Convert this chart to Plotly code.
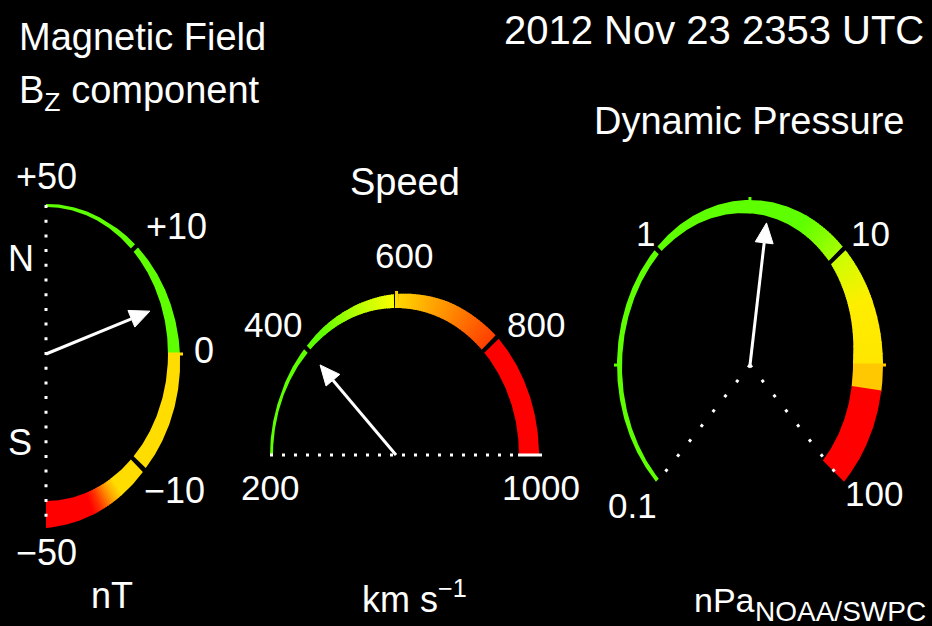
import numpy as np
import plotly.graph_objects as go

timestamp = "2012 Nov 23 2353 UTC"

bz_ticks = [50, 10, 0, -10, -50]
bz_tick_labels = ["+50", "+10", "0", "−10", "−50"]
bz_value = 4.2  # nT

speed_ticks = [200, 400, 600, 800, 1000]
speed_tick_labels = ["200", "400", "600", "800", "1000"]
speed_value = 399  # km/s

pressure_ticks = [0.1, 1, 10, 100]
pressure_tick_labels = ["0.1", "1", "10", "100"]
pressure_value = 3.9  # nPa

# ---- styling ----
FONT = "Liberation Sans, Arial, sans-serif"
GREEN = "#5eff00"
RED = "#ff0000"

# angle (deg, counter-clockwise from +x) of each labelled tick
BZ_ANGLES = [90, 45, 0, -45, -90]


def bz_angle(v):
    return np.interp(v, bz_ticks[::-1], BZ_ANGLES[::-1])


def speed_angle(v):
    return np.interp(v, [speed_ticks[0], speed_ticks[-1]], [180, 0])


def pressure_angle(v):
    lo, hi = np.log10(pressure_ticks[0]), np.log10(pressure_ticks[-1])
    return np.interp(np.log10(v), [lo, hi], [225, -45])


gauges = [
    dict(
        scale=bz_angle, ticks=bz_ticks, value=bz_value,
        cx=46, cy=354, rx=122, ry=147, grow=1, needle=0.9,
        colors=[(50, GREEN), (0, GREEN), (0, "#ffdd00"), (-21, "#ffdd00"),
                (-25, "#ffa000"), (-30, "#ff3000"), (-33, RED), (-50, RED)],
        widths=[(50, 3), (25, 4), (10, 6), (0, 12), (-10, 17), (-50, 27)],
        gaps=[10, -10], marks=[0],
    ),
    dict(
        scale=speed_angle, ticks=speed_ticks, value=speed_value,
        cx=396, cy=455, rx=123, ry=147, grow=1, needle=0.87,
        colors=[(200, GREEN), (440, GREEN), (520, "#b4ff00"), (600, "#ffff00"),
                (600, "#ffd800"), (700, "#ff9000"), (800, "#ff3c00"), (800, RED), (1000, RED)],
        widths=[(200, 3), (300, 3), (400, 5), (500, 9), (600, 14), (700, 18), (800, 20), (1000, 20)],
        gaps=[400, 600, 800], marks=[601],
    ),
    dict(
        scale=pressure_angle, ticks=pressure_ticks, value=pressure_value,
        cx=750, cy=365, rx=133, ry=165, grow=-1, needle=0.87,
        colors=[(0.1, GREEN), (6, GREEN), (10, "#a8ff00"), (10, "#c8ff00"), (17, "#ffee00"),
                (31.6, "#ffe600"), (31.6, "#ffc800"), (40, "#ffc800"), (40, RED), (100, RED)],
        widths=[(0.1, 4), (1, 6), (3, 13), (10, 20), (30, 30), (100, 30)],
        gaps=[1, 10], marks=[0.316, 3.16, 31.6],
    ),
]


def to_rgb(h):
    return np.array([int(h[i:i + 2], 16) for i in (1, 3, 5)], dtype=float)


def ellipse(g, ang, off):
    a = np.radians(ang)
    return g["cx"] + (g["rx"] + off) * np.cos(a), g["cy"] - (g["ry"] + off) * np.sin(a)


def band_props(g, s):
    """colour + width at distance s (deg) along the dial from its first tick"""
    a0 = g["scale"](g["ticks"][0])
    cs = [a0 - g["scale"](v) for v, _ in g["colors"]]
    rgb = np.array([to_rgb(c) for _, c in g["colors"]])
    col = [int(round(np.interp(s, cs, rgb[:, k]))) for k in range(3)]
    ws = [a0 - g["scale"](v) for v, _ in g["widths"]]
    w = np.interp(s, ws, [w for _, w in g["widths"]])
    return "#%02x%02x%02x" % tuple(col), w


def band_edges(g, s_arr):
    a0 = g["scale"](g["ticks"][0])
    ang = a0 - s_arr
    w = np.array([band_props(g, s)[1] for s in s_arr])
    if g["grow"] > 0:
        ix, iy = ellipse(g, ang, 0)
        ox, oy = ellipse(g, ang, w)
    else:
        ox, oy = ellipse(g, ang, 0)
        ix, iy = ellipse(g, ang, -w)
    return ix, iy, ox, oy


fig = go.Figure()
GAP = 0.9

for g in gauges:
    a0 = g["scale"](g["ticks"][0])
    total = a0 - g["scale"](g["ticks"][-1])
    cuts = sorted(a0 - g["scale"](v) for v in g["gaps"])
    pieces, start = [], 0.0
    for c in cuts:
        pieces.append((start, c - GAP))
        start = c + GAP
    pieces.append((start, total))

    for p0, p1 in pieces:
        edges = np.append(np.arange(p0, p1, 1.0), p1)
        mids = (edges[:-1] + edges[1:]) / 2
        cols = [band_props(g, m)[0] for m in mids]
        i = 0
        while i < len(cols):
            j = i
            while j + 1 < len(cols) and cols[j + 1] == cols[i]:
                j += 1
            s_lo = edges[i]
            s_hi = min(edges[j + 1] + 0.4, p1)
            s_arr = np.linspace(s_lo, s_hi, max(2, int((s_hi - s_lo) / 0.5) + 1))
            ix, iy, ox, oy = band_edges(g, s_arr)
            fig.add_trace(go.Scatter(
                x=np.concatenate([ox, ix[::-1]]), y=np.concatenate([oy, iy[::-1]]),
                mode="lines", fill="toself", fillcolor=cols[i],
                line=dict(width=0), hoverinfo="skip",
            ))
            i = j + 1

    # small marks poking out of the band
    for v in g["marks"]:
        s = a0 - g["scale"](v)
        col, w = band_props(g, s)
        ang = g["scale"](v)
        if g["grow"] > 0:
            x0, y0 = ellipse(g, ang, 0)
            x1, y1 = ellipse(g, ang, w + 3)
        else:
            x0, y0 = ellipse(g, ang, -w)
            x1, y1 = ellipse(g, ang, 3)
        fig.add_trace(go.Scatter(x=[x0, x1], y=[y0, y1], mode="lines",
                                 line=dict(color=col, width=3), hoverinfo="skip"))

# ---- dotted guide lines ----
bz, sp, pr = gauges
fig.add_trace(go.Scatter(
    x=[bz["cx"], bz["cx"]], y=[bz["cy"] - bz["ry"] - 2, bz["cy"] + bz["ry"] + 27],
    mode="lines", line=dict(color="white", width=3, dash="3px,11.7px"), hoverinfo="skip"))
fig.add_trace(go.Scatter(
    x=[sp["cx"] - sp["rx"] - 3, sp["cx"] + sp["rx"] - 4], y=[sp["cy"], sp["cy"]],
    mode="lines", line=dict(color="white", width=3, dash="3px,9px"), hoverinfo="skip"))
fig.add_trace(go.Scatter(
    x=[sp["cx"] + sp["rx"] - 1, sp["cx"] + sp["rx"] + 23], y=[sp["cy"], sp["cy"]],
    mode="lines", line=dict(color="white", width=3), hoverinfo="skip"))
for v in (pressure_ticks[0], pressure_ticks[-1]):
    ex, ey = ellipse(pr, pressure_angle(v), -10)
    fig.add_trace(go.Scatter(
        x=[pr["cx"], ex], y=[pr["cy"], ey], mode="lines",
        line=dict(color="white", width=3, dash="3px,16px"), hoverinfo="skip"))

# ---- needles ----
HEAD_LEN, HEAD_HALF = 20, 9
for g in gauges:
    a = np.radians(g["scale"](g["value"]))
    tx = g["cx"] + g["needle"] * g["rx"] * np.cos(a)
    ty = g["cy"] - g["needle"] * g["ry"] * np.sin(a)
    u = np.array([tx - g["cx"], ty - g["cy"]])
    u /= np.linalg.norm(u)
    n = np.array([-u[1], u[0]])
    bx, by = tx - u[0] * HEAD_LEN, ty - u[1] * HEAD_LEN
    fig.add_trace(go.Scatter(
        x=[g["cx"], bx], y=[g["cy"], by], mode="lines",
        line=dict(color="white", width=3), hoverinfo="skip",
    ))
    fig.add_trace(go.Scatter(
        x=[tx, bx + n[0] * HEAD_HALF, bx - n[0] * HEAD_HALF, tx],
        y=[ty, by + n[1] * HEAD_HALF, by - n[1] * HEAD_HALF, ty],
        mode="lines", fill="toself", fillcolor="white",
        line=dict(color="white", width=1), hoverinfo="skip",
    ))

# ---- text ----
labels = [
    ("Magnetic Field", 17, 37, "left", 38),
    ("B<sub>Z</sub> component", 17, 93, "left", 38),
    (timestamp, 926, 30, "right", 40),
    ("Dynamic Pressure", 906, 121, "right", 38),
    ("Speed", 405, 182, "center", 38),
    ("N", 6, 258, "left", 36),
    ("S", 6, 442, "left", 36),
    ("nT", 89, 595, "left", 36),
    ("km s<sup>−1</sup>", 360, 597, "left", 36),
    ("nPa", 692, 600, "left", 34),
    ("NOAA/SWPC", 928, 611, "right", 28),
]
bz_label_pos = [(46, 176, "center"), (144, 226, "left"), (192, 350, "left"),
                (142, 490, "left"), (46, 552, "center")]
speed_label_pos = [(270, 487, "center"), (273, 324, "center"), (404, 255, "center"),
                   (536, 324, "center"), (541, 487, "center")]
pressure_label_pos = [(632, 505, "center"), (645, 233, "center"), (870, 233, "center"),
                      (874, 493, "center")]
for txt, (x, y, anc) in zip(bz_tick_labels, bz_label_pos):
    labels.append((txt, x, y, anc, 36))
for txt, (x, y, anc) in zip(speed_tick_labels, speed_label_pos):
    labels.append((txt, x, y, anc, 35))
for txt, (x, y, anc) in zip(pressure_tick_labels, pressure_label_pos):
    labels.append((txt, x, y, anc, 35))

for txt, x, y, anc, size in labels:
    fig.add_annotation(
        x=x, y=y, text=txt, showarrow=False, xanchor=anc, yanchor="middle",
        font=dict(family=FONT, size=size, color="white"),
    )

fig.update_layout(
    width=932, height=626,
    margin=dict(l=0, r=0, t=0, b=0),
    paper_bgcolor="black", plot_bgcolor="black",
    showlegend=False,
    xaxis=dict(range=[0, 932], visible=False, fixedrange=True),
    yaxis=dict(range=[626, 0], visible=False, fixedrange=True),
)

fig.write_html(
    "out.html",
    config={"displayModeBar": False},
    post_script="document.body.style.margin='0';document.body.style.background='black';"
                "document.body.style.overflow='hidden';",
)
